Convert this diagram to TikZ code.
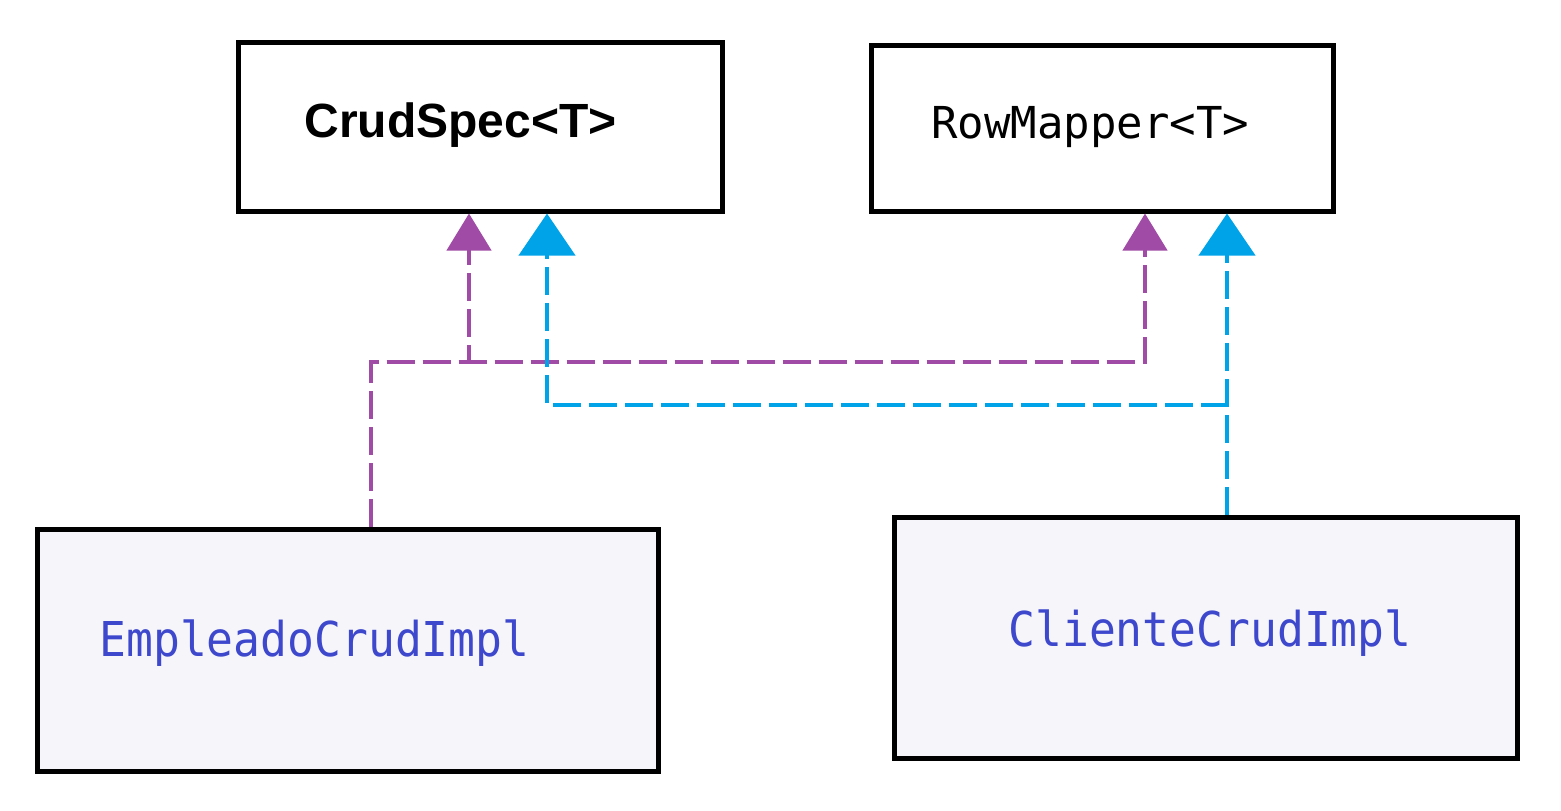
\documentclass[tikz,border=0pt]{standalone}
\usepackage{fontspec}
\setmainfont{Liberation Sans}
\newfontfamily\monoA{DejaVu Sans Mono}
\newfontfamily\monoB{DejaVu Sans Mono}[FakeStretch=0.93]
\usetikzlibrary{arrows.meta}
\definecolor{umlpurple}{RGB}{160,75,165}
\definecolor{umlblue}{RGB}{0,162,232}
\definecolor{impltext}{RGB}{62,72,205}
\definecolor{implfill}{RGB}{245,245,250}
\tikzset{
  classbox/.style={draw=black, line width=2.5pt, inner sep=0pt, fill=white},
  implbox/.style={classbox, fill=implfill},
  boxtext/.style={anchor=base west, inner sep=0pt},
  realize/.style={line width=2.2pt, dash pattern=on 14pt off 4pt},
  purpleline/.style={realize, draw=umlpurple, -{Triangle[width=22pt,length=18.5pt,fill=umlpurple]}},
  blueline/.style={realize, draw=umlblue, -{Triangle[width=28pt,length=21pt,fill=umlblue]}},
}
\begin{document}
\begin{tikzpicture}[x=0.5pt,y=-0.5pt]
\useasboundingbox (0,0) rectangle (1561,810);
\fill[white] (0,0) rectangle (1561,810);

% boxes
\node[classbox, minimum width=242pt, minimum height=84.5pt] (crud) at (480,126.5) {};
\node[classbox, minimum width=231pt, minimum height=83pt] (row) at (1102,128) {};
\node[implbox, minimum width=310.5pt, minimum height=121pt] (emp) at (347.5,650) {};
\node[implbox, minimum width=311.5pt, minimum height=120.5pt] (cli) at (1205.5,637.5) {};

% texts
\node[boxtext] (crudT) at (304,137) {\bfseries\fontsize{24pt}{28pt}\selectfont CrudSpec<T>};
\node[boxtext] (rowT) at (931,138) {\monoA\fontsize{22pt}{26pt}\selectfont RowMapper<T>};
\node[boxtext, text=impltext] (empT) at (99,656) {\monoB\fontsize{24pt}{28pt}\selectfont EmpleadoCrudImpl};
\node[boxtext, text=impltext] (cliT) at (1008,646) {\monoB\fontsize{24pt}{28pt}\selectfont ClienteCrudImpl};

% routing coordinates
\coordinate (pa) at (371,362);
\coordinate (c1) at (469,0);
\coordinate (c2) at (1145,0);
\coordinate (c3) at (547,0);
\coordinate (c4) at (1227,405);

% connectors
\draw[purpleline] (emp.north -| pa) -- (pa) -- (pa -| c1) -- (crud.south -| c1);
\draw[purpleline] (emp.north -| pa) -- (pa) -- (pa -| c2) -- (row.south -| c2);
\draw[blueline] (cli.north -| c4) -- (row.south -| c4);
\draw[blueline] (cli.north -| c4) -- (c4) -- (c4 -| c3) -- (crud.south -| c3);
\end{tikzpicture}
\end{document}
